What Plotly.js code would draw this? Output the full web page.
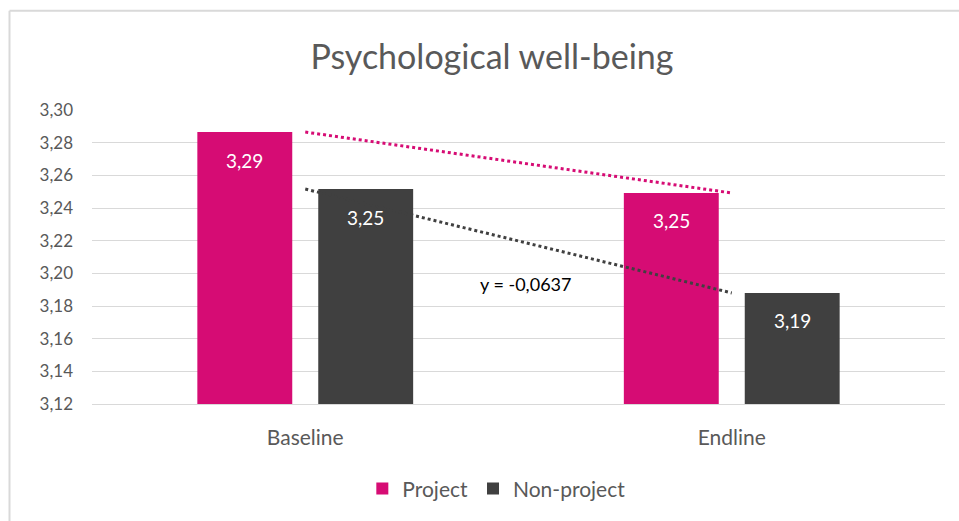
<!DOCTYPE html>
<html>
<head>
<meta charset="utf-8">
<script src="https://cdn.plot.ly/plotly-3.0.1.min.js"></script>
<style>
  body { margin: 0; background: #fff; }
  #chart { width: 959px; height: 521px; }
</style>
</head>
<body>
<div id="chart"></div>
<script>
'use strict';

const categories = ['Baseline', 'Endline'];
const projectValues = [3.2865, 3.2492];
const nonProjectValues = [3.2516, 3.1880];
const projectLabels = ['3,29', '3,25'];
const nonProjectLabels = ['3,25', '3,19'];
const equationText = 'y = -0,0637';

const pink = '#D60C74';
const dark = '#404040';
const font = 'Lato, "Open Sans", sans-serif';

const projectTrace = {
    x: categories,
    y: projectValues,
    type: 'bar',
    name: 'Project',
    marker: { color: pink },
    hoverinfo: 'skip'
};

const nonProjectTrace = {
    x: categories,
    y: nonProjectValues,
    type: 'bar',
    name: 'Non-project',
    marker: { color: dark },
    hoverinfo: 'skip'
};

// linear trendlines, through the two category points
const projectTrend = {
    x: categories,
    y: projectValues,
    type: 'scatter',
    mode: 'lines',
    showlegend: false,
    line: { color: pink, width: 3, dash: 'dot' },
    hoverinfo: 'skip'
};

const nonProjectTrend = {
    x: categories,
    y: nonProjectValues,
    type: 'scatter',
    mode: 'lines',
    showlegend: false,
    line: { color: dark, width: 3, dash: 'dot' },
    hoverinfo: 'skip'
};

// value labels sit a little below each bar top, like excel's inside-end labels
const barOffset = 60.5;
const valueLabels = [];
categories.forEach((cat, i) => {
    valueLabels.push({ xref: 'x', yref: 'y', x: cat, y: projectValues[i], xshift: -barOffset, yshift: -28,
        text: projectLabels[i], showarrow: false, font: { size: 19, color: '#ffffff', family: font } });
    valueLabels.push({ xref: 'x', yref: 'y', x: cat, y: nonProjectValues[i], xshift: barOffset, yshift: -28,
        text: nonProjectLabels[i], showarrow: false, font: { size: 19, color: '#ffffff', family: font } });
});

const layout = {
    width: 959,
    height: 521,
    margin: { l: 92, r: 14, t: 110, b: 117 },
    paper_bgcolor: '#ffffff',
    plot_bgcolor: '#ffffff',
    separators: ', ',
    font: { family: font, color: '#595959', size: 16 },
    title: {
        text: 'Psychological well-being',
        font: { size: 34, color: '#595959', family: font },
        x: 0.513,
        xanchor: 'center',
        y: 0.89,
        yanchor: 'middle'
    },
    barmode: 'group',
    bargap: 0.433,
    bargroupgap: 0.215,
    xaxis: {
        type: 'category',
        showgrid: false,
        showline: true,
        linecolor: '#d9d9d9',
        linewidth: 1,
        ticks: '',
        ticklabelstandoff: 15,
        tickfont: { size: 21, color: '#595959' },
        fixedrange: true
    },
    yaxis: {
        range: [3.12, 3.30],
        dtick: 0.02,
        tick0: 3.12,
        tickformat: '.2f',
        showgrid: true,
        gridcolor: '#d9d9d9',
        gridwidth: 1,
        zeroline: false,
        showline: false,
        ticks: '',
        ticklabelstandoff: 18,
        tickfont: { size: 17, color: '#595959' },
        fixedrange: true
    },
    legend: {
        orientation: 'h',
        x: 0.474,
        xanchor: 'center',
        y: -0.289,
        yanchor: 'middle',
        font: { size: 21, color: '#595959' },
        itemwidth: 30
    },
    annotations: valueLabels.concat([{
        xref: 'paper',
        yref: 'y',
        x: 0.508,
        y: 3.1935,
        text: equationText,
        showarrow: false,
        font: { size: 18, color: '#000000', family: font }
    }]),
    shapes: [
        { type: 'line', xref: 'paper', yref: 'paper', x0: -0.0967, x1: 1.02, y0: 1.338, y1: 1.338,
          line: { color: '#d9d9d9', width: 2 } },
        { type: 'line', xref: 'paper', yref: 'paper', x0: -0.0967, x1: -0.0967, y0: 1.338, y1: -0.45,
          line: { color: '#d9d9d9', width: 2 } }
    ]
};

Plotly.newPlot('chart', [projectTrace, nonProjectTrace, projectTrend, nonProjectTrend], layout, { displayModeBar: false, staticPlot: true });
</script>
</body>
</html>
